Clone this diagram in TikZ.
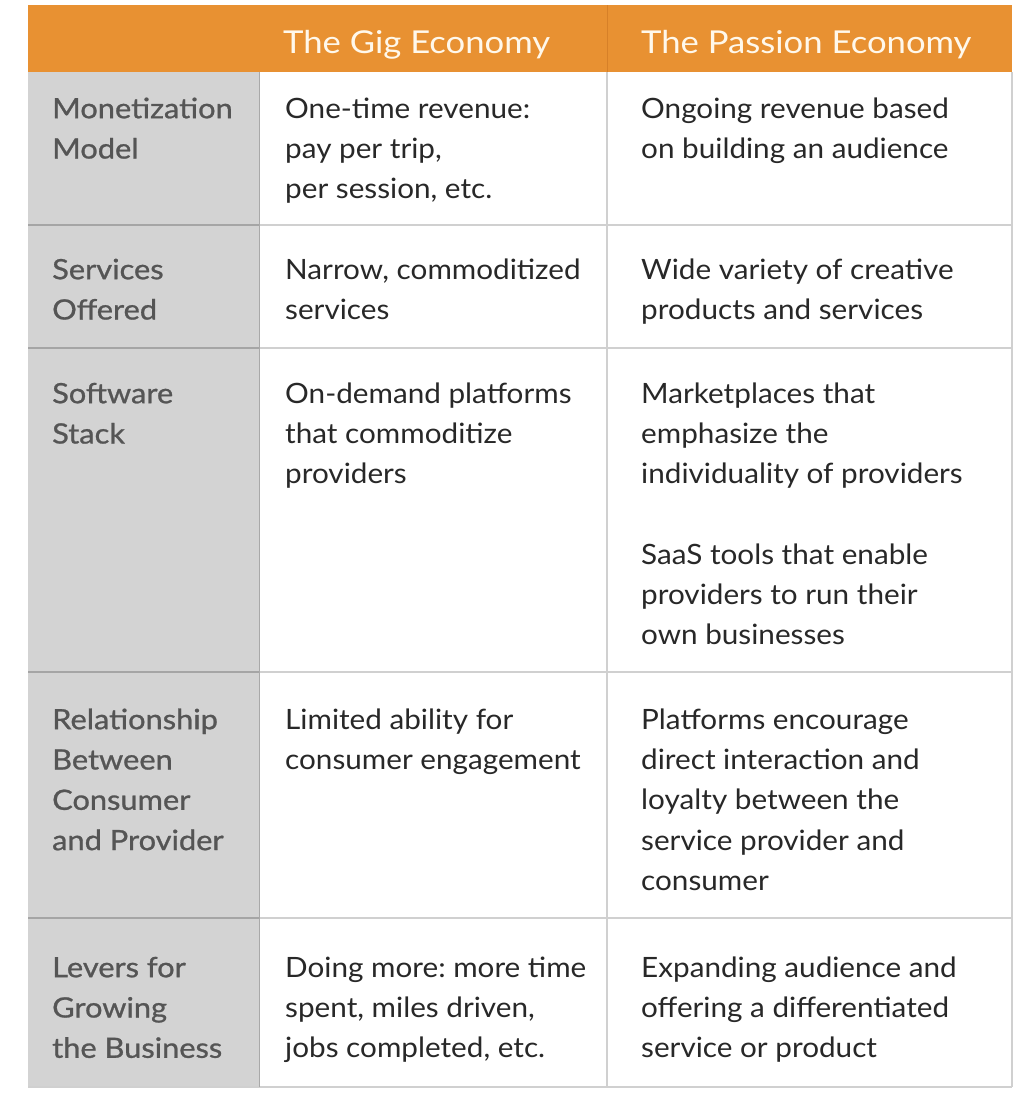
\documentclass[tikz,border=0pt]{standalone}
\usepackage{fontspec}
\setmainfont[FakeStretch=1.06]{Lato}
\newfontfamily\labelfont[FakeStretch=1.1,FakeBold=0.9]{Lato}
\newfontfamily\hdrfont[FakeStretch=1.1]{Lato}
\frenchspacing
\definecolor{hdrorange}{RGB}{232,145,50}
\definecolor{hdrline}{RGB}{214,128,40}
\definecolor{graycol}{RGB}{211,211,211}
\definecolor{sepdark}{RGB}{165,165,165}
\definecolor{seplight}{RGB}{208,208,208}
\definecolor{bodytext}{RGB}{40,40,40}
\definecolor{labeltext}{RGB}{85,85,85}
\definecolor{hdrtext}{RGB}{255,248,235}
\tikzset{
  cell/.style={anchor=north west, inner sep=0pt, align=left, text=bodytext,
    font=\fontsize{28}{40.3}\selectfont},
  labelcell/.style={cell, text=labeltext, font=\labelfont\fontsize{28}{40.3}\selectfont},
  hdrcell/.style={anchor=base west, inner sep=0pt, text=hdrtext,
    font=\hdrfont\fontsize{31.5}{40}\selectfont},
  darkrule/.style={draw=sepdark, line width=1.5pt},
  lightrule/.style={draw=seplight, line width=1.5pt}
}
\begin{document}
\begin{tikzpicture}[x=1pt,y=-1pt]
\useasboundingbox (0,0) rectangle (1030,1117);
\fill[white] (0,0) rectangle (1030,1117);
% header band and label column
\fill[hdrorange] (28,5) rectangle (1012,72);
\fill[graycol] (28,72) rectangle (259,1087);
\draw[hdrline, line width=1pt] (607,5) -- (607,72);
% row separators
\foreach \yy in {225,348,672,918} {
  \draw[darkrule] (28,\yy) -- (259,\yy);
  \draw[lightrule] (259,\yy) -- (1012,\yy);
}
\draw[lightrule] (607,72) -- (607,1087);
\draw[lightrule] (1012,72) -- (1012,1087);
\draw[lightrule] (28,1087) -- (1012,1087);
\draw[draw=graycol!80!black, line width=0.8pt] (259,72) -- (259,1087);
% header texts
\node[hdrcell] (hgig) at (283,53) {The Gig Economy};
\node[hdrcell] (hpas) at (641,53) {The Passion Economy};
% row 1
\node[labelcell] (l1) at (52,89.8) {\strut Monetization\\Model};
\node[cell] (g1) at (285,89.8) {\strut One-time revenue:\\pay per trip,\\per session, etc.};
\node[cell] (p1) at (641,89.8) {\strut Ongoing revenue based\\on building an audience};
% row 2
\node[labelcell] (l2) at (52,250.8) {\strut Services\\Offered};
\node[cell] (g2) at (285,250.8) {\strut Narrow, commoditized\\services};
\node[cell] (p2) at (641,250.8) {\strut Wide variety of creative\\products and services};
% row 3
\node[labelcell] (l3) at (52,374.8) {\strut Software\\Stack};
\node[cell] (g3) at (285,374.8) {\strut On-demand platforms\\that commoditize\\providers};
\node[cell] (p3a) at (641,374.8) {\strut Marketplaces that\\emphasize the\\individuality of providers};
\node[cell] (p3b) at (641,535.8) {\strut SaaS tools that enable\\providers to run their\\own businesses};
% row 4
\node[labelcell] (l4) at (52,700.8) {\strut Relationship\\Between\\Consumer\\and Provider};
\node[cell] (g4) at (285,700.8) {\strut Limited ability for\\consumer engagement};
\node[cell] (p4) at (641,700.8) {\strut Platforms encourage\\direct interaction and\\loyalty between the\\service provider and\\consumer};
% row 5
\node[labelcell] (l5) at (52,948.8) {\strut Levers for\\Growing\\the Business};
\node[cell] (g5) at (285,948.8) {\strut Doing more: more time\\spent, miles driven,\\jobs completed, etc.};
\node[cell] (p5) at (641,948.8) {\strut Expanding audience and\\offering a differentiated\\service or product};
\end{tikzpicture}
\end{document}
